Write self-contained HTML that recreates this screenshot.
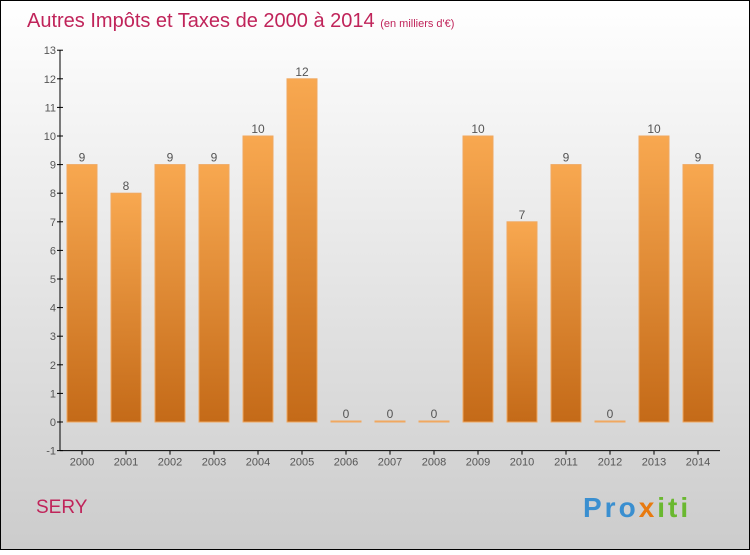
<!DOCTYPE html>
<html><head><meta charset="utf-8"><style>
html,body{margin:0;padding:0}
body{width:750px;height:550px;overflow:hidden;font-family:"Liberation Sans",sans-serif}
</style></head><body>
<svg width="750" height="550" viewBox="0 0 750 550">
<defs>
<linearGradient id="bg" x1="0" y1="0" x2="0" y2="1"><stop offset="0" stop-color="#ffffff"/><stop offset="1" stop-color="#cccccc"/></linearGradient>
<linearGradient id="bar" x1="0" y1="0" x2="0" y2="1"><stop offset="0" stop-color="#f8a850"/><stop offset="1" stop-color="#c46a18"/></linearGradient>
</defs>
<rect x="0.5" y="0.5" width="749" height="549" fill="url(#bg)" stroke="#000"/>
<text x="27" y="27" font-size="20" fill="#c0245a">Autres Impôts et Taxes de 2000 à 2014 <tspan font-size="11">(en milliers d'€)</tspan></text>
<g id="axes"></g>
<g id="bars"></g>
<text x="36" y="513" font-size="19" fill="#c0245a">SERY</text>
<text x="583" y="517" font-size="28" font-weight="bold" letter-spacing="3" fill="#3a8fd0">Pro<tspan fill="#e87a10">x</tspan><tspan fill="#6ab830">iti</tspan></text>
</svg>
<script>
const years=["2000","2001","2002","2003","2004","2005","2006","2007","2008","2009","2010","2011","2012","2013","2014"];
const values=[9,8,9,9,10,12,0,0,0,10,7,9,0,10,9];
const yTicks=[-1,0,1,2,3,4,5,6,7,8,9,10,11,12,13];
const NS="http://www.w3.org/2000/svg";
const y=v=>422-(v)*28.6;
const x=i=>82+i*44;
function mk(t,a,p){const e=document.createElementNS(NS,t);for(const k in a)e.setAttribute(k,a[k]);p.appendChild(e);return e;}
const ax=document.getElementById('axes'),bg=document.getElementById('bars');
const ya=mk('line',{x1:60,y1:y(13),x2:60,y2:y(-1),stroke:'#000','stroke-width':1},ax);


const xa=mk('line',{x1:60,y1:y(-1),x2:720,y2:y(-1),stroke:'#000','stroke-width':1},ax);


yTicks.forEach(t=>{
 mk('line',{x1:57,y1:y(t),x2:63,y2:y(t),stroke:'#000'},ax);
 const l=mk('text',{x:56,y:y(t)+4,'text-anchor':'end','font-size':11,fill:'#555'},ax);
 l.textContent=t;
 
 
});
years.forEach((yr,i)=>{
 mk('line',{x1:x(i),y1:y(-1),x2:x(i),y2:y(-1)+4,stroke:'#000'},ax);
 const l=mk('text',{x:x(i),y:y(-1)+15,'text-anchor':'middle','font-size':11,fill:'#555'},ax);
 l.textContent=yr;
 
 
 const v=values[i];
 const top=Math.min(y(v),y(0)-1);
 const r=mk('rect',{x:x(i)-15,y:top,width:30,height:Math.max(1,y(0)-top),fill:'url(#bar)',stroke:'#f0a860','stroke-width':1},bg);
 
 
 const vl=mk('text',{x:x(i),y:top-3,'text-anchor':'middle','font-size':12,fill:'#555'},bg);
 vl.textContent=v;
 
 
});
</script>
</body></html>
